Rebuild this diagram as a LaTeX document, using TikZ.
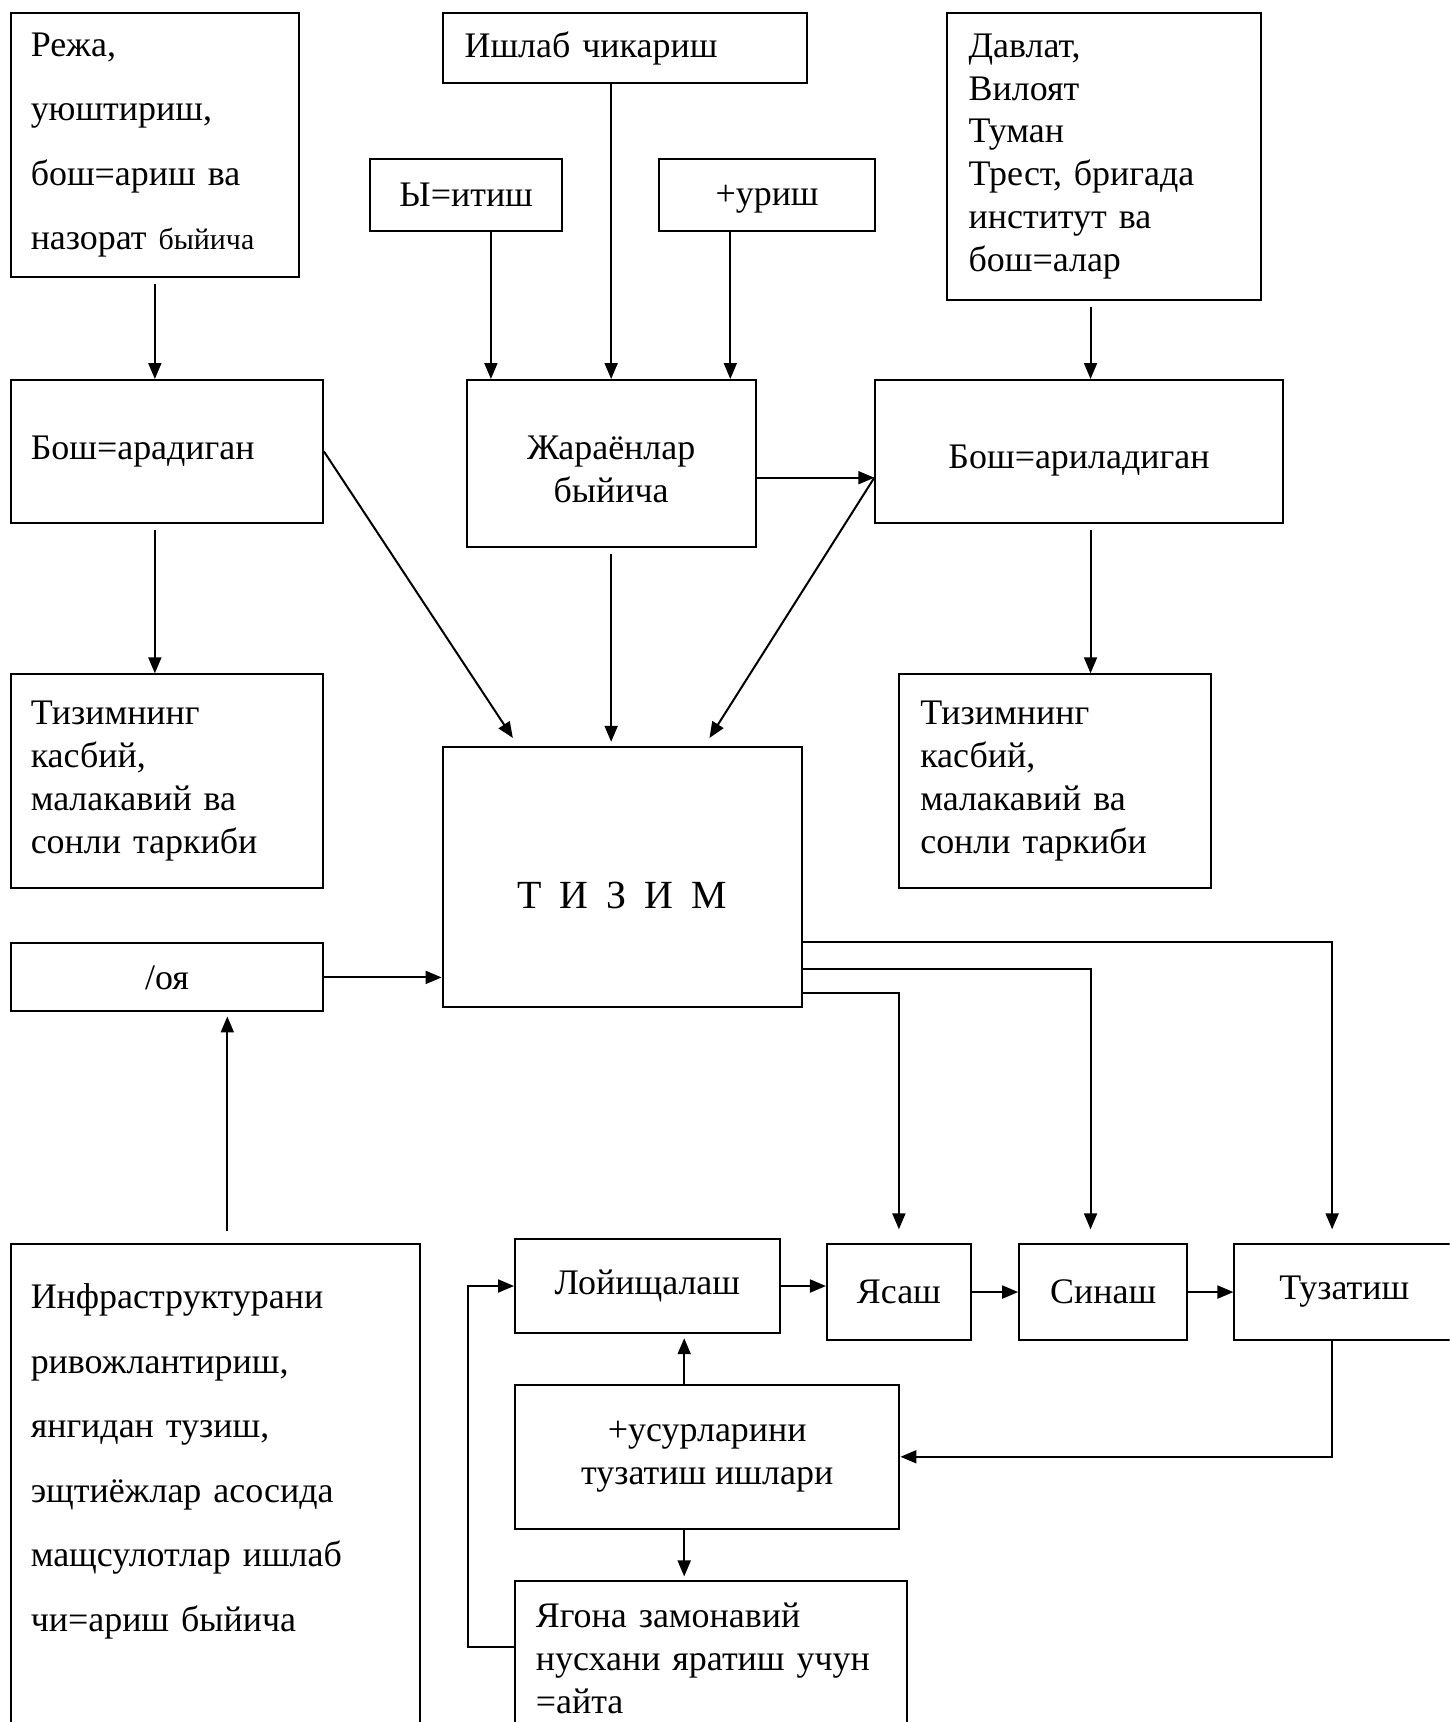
\documentclass[tikz,border=0pt]{standalone}
\usepackage{fontspec}
\setmainfont{Liberation Serif}
\usetikzlibrary{arrows.meta}
\begin{document}
\begin{tikzpicture}[x=0.55pt,y=-0.55pt,
  box/.style={draw, line width=1pt, inner sep=0pt, rectangle, font=\fontsize{18}{21.5}\selectfont},
  rect/.style n args={4}{at={({(#1+#3)/2},{(#2+#4)/2})},
    minimum width={(#3-#1)*0.55pt}, minimum height={(#4-#2)*0.55pt}},
  wide/.style={font=\fontsize{18}{32.3}\selectfont},
  arr/.style={line width=1pt, -{Triangle[length=8pt,width=6.5pt]}},
]
\useasboundingbox (0,0) rectangle (1320,1568);
\fill[white] (0,0) rectangle (1320,1568);
\clip (0,0) rectangle (1320,1568);

% --- top row ---
\node[box, wide, rect={10}{12}{272}{252}, text width=124.3pt, align=left] (plan)
  {Режа,\\ уюштириш,\\ \mbox{бош=ариш ва}\\ \mbox{назорат {\fontsize{15}{32.3}\selectfont быйича}}};
\node[box, rect={403}{12}{735}{76}, text width=160.6pt, align=left] (prod) {Ишлаб чикариш};
\node[box, rect={337}{145}{512}{210}] (walk) {Ы=итиш};
\node[box, rect={600}{145}{797}{210}, text depth=0pt] (build) {+уриш};
\node[box, rect={862}{12}{1148}{273}, text width=135.3pt, align=left] (state)
  {Давлат,\\ Вилоят\\ Туман\\ \mbox{Трест, бригада}\\ институт ва\\ бош=алар};

% --- second row ---
\node[box, rect={10}{346}{294}{476}, text width=136.4pt, align=left] (mgr) {Бош=арадиган};
\node[box, rect={425}{346}{688}{498}] (proc)
  {\raisebox{-4.4pt}[\height][\depth]{\begin{tabular}{@{}c@{}}Жараёнлар\\ быйича\end{tabular}}};
\node[box, rect={797}{346}{1168}{476}, text depth=0pt] (mgd)
  {\raisebox{-2.7pt}[\height][0pt]{Бош=ариладиган}};

% --- composition boxes and the system ---
\node[box, rect={10}{614}{294}{809}, text width=136.4pt, align=left] (compL)
  {Тизимнинг\\ касбий,\\ малакавий ва\\ \mbox{сонли таркиби}};
\node[box, rect={819}{614}{1103}{809}, text width=135.3pt, align=left] (compR)
  {Тизимнинг\\ касбий,\\ малакавий ва\\ \mbox{сонли таркиби}};
\node[box, rect={403}{680}{730}{917}, font=\fontsize{20}{24}\selectfont] (sys)
  {\raisebox{-9.1pt}[\height][\depth]{Т\hspace{9pt}И\hspace{9pt}З\hspace{9pt}И\hspace{9pt}М}};
\node[box, rect={10}{859}{294}{921}] (soil) {/оя};

% --- bottom part ---
\node[box, wide, rect={10}{1133}{382}{1580}, text width=184.8pt, align=left] (infra)
  {Инфраструктурани\\ ривожлантириш,\\ янгидан тузиш,\\ \mbox{эщтиёжлар асосида}\\ \mbox{мащсулотлар ишлаб}\\ чи=ариш быйича\\ \mbox{}};
\node[box, rect={469}{1128}{710}{1214}] (design) {Лойищалаш};
\node[box, rect={753}{1133}{884}{1220}] (make) {Ясаш};
\node[box, rect={928}{1133}{1081}{1220}] (test) {Синаш};
\node[box, rect={1124}{1133}{1324}{1220}] (fix) {Тузатиш};
\node[box, rect={469}{1261}{819}{1392}, align=center] (fixwork) {+усурларини\\ тузатиш ишлари};
\node[box, rect={469}{1440}{826}{1580}, text width=175.5pt, align=left] (unique)
  {\mbox{Ягона замонавий}\\ \mbox{нусхани яратиш учун}\\ =айта};

% --- routing coordinates ---
\coordinate (xw) at (447,0);
\coordinate (xb) at (665,0);
\coordinate (xs) at (993,0);
\coordinate (xi) at (207,0);
\coordinate (xf) at (1213,0);
\coordinate (xc) at (623,0);
\coordinate (xl) at (426,0);
\coordinate (yh) at (0,435);
\coordinate (y1) at (0,858);
\coordinate (y2) at (0,882);
\coordinate (y3) at (0,904);
\coordinate (yl) at (0,1500);
\coordinate (d1) at (467,672);
\coordinate (d2) at (646,672);

% --- connectors ---
\draw[arr, shorten <=3pt] (plan.south) -- (plan.south |- mgr.north);
\draw[arr] (walk.south -| xw) -- (proc.north -| xw);
\draw[arr] (prod.south -| proc.north) -- (proc.north);
\draw[arr] (build.south -| xb) -- (proc.north -| xb);
\draw[arr, shorten <=3pt] (state.south -| xs) -- (mgd.north -| xs);
\draw[arr, shorten <=3pt] (mgr.south -| plan.south) -- (compL.north -| plan.south);
\draw[arr, shorten <=3pt] (mgd.south -| xs) -- (compR.north -| xs);
\draw[arr] (proc.east |- yh) -- (mgd.west |- yh);
\draw[arr] (mgr.east) -- (d1);
\draw[arr, shorten <=3pt, shorten >=2pt] (proc.south) -- (sys.north -| proc.south);
\draw[arr] (mgd.west |- yh) -- (d2);
\draw[arr] (soil.east) -- (soil.east -| sys.west);
\draw[arr, shorten <=6pt, shorten >=2pt] (infra.north -| xi) -- (soil.south -| xi);
\draw[arr, shorten >=7pt] (sys.east |- y1) -| (fix.north -| xf);
\draw[arr, shorten >=7pt] (sys.east |- y2) -| (test.north -| xs);
\draw[arr, shorten >=7pt] (sys.east |- y3) -| (make.north);
\draw[arr] (design.east) -- (design.east -| make.west);
\draw[arr] (make.east) -- (test.west);
\draw[arr] (test.east) -- (fix.west);
\draw[arr] (fix.south -| xf) |- (fixwork.east);
\draw[arr, shorten >=2pt] (fixwork.north -| xc) -- (design.south -| xc);
\draw[arr, shorten >=2pt] (fixwork.south -| xc) -- (unique.north -| xc);
\draw[arr] (unique.west |- yl) -- (xl |- yl) -- (xl |- design.west) -- (design.west);
\end{tikzpicture}
\end{document}
